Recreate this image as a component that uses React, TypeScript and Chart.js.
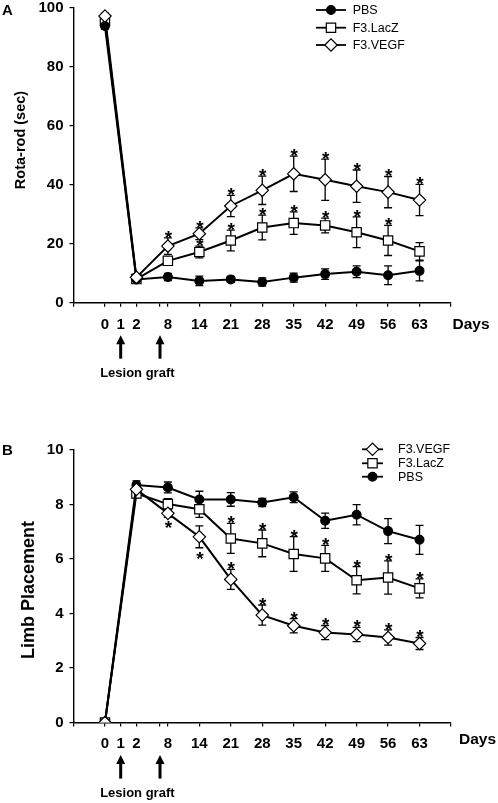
import React, { useEffect, useRef } from 'react';
import { Chart, registerables } from 'chart.js';

Chart.register(...registerables);

const FONT = "'Liberation Sans', Arial, Helvetica, sans-serif";

// ---- x axis of the original (a broken, non-proportional day axis) ----
const xTickSlots = [0, 1, 1.5, 2, 2.75, 3, 4, 5, 6, 7, 8, 9, 10, 11, 12];
const xTickLabels = ['', '0', '1', '2', '', '8', '14', '21', '28', '35', '42', '49', '56', '63', ''];
const arrowSlots = [1.5, 2.75];

// ---- days measured ----
const days = [0, 2, 8, 14, 21, 28, 35, 42, 49, 56, 63];

// ---- Panel A : Rota-rod (sec) ----
const aPBS = [93.8, 7.9, 8.7, 7.4, 7.9, 7.0, 8.5, 9.7, 10.5, 9.3, 10.8];
const aPBSErr = [1, 0.6, 1.2, 1.6, 1.0, 1.4, 1.5, 1.8, 2.0, 3.2, 3.4];
const aLacZ = [95.5, 8.0, 14.2, 17.2, 21.1, 25.5, 27.0, 26.2, 23.9, 21.1, 17.4];
const aLacZErr = [1, 0.8, 1.0, 2.0, 3.5, 4.2, 3.8, 2.5, 5.2, 5.1, 3.0];
const aVEGF = [97.2, 8.6, 19.2, 23.4, 32.8, 38.1, 43.7, 41.7, 39.5, 37.5, 34.8];
const aVEGFErr = [1, 1.2, 2.8, 2.0, 3.6, 4.8, 6.0, 7.0, 5.5, 5.3, 5.3];
// significance marks: 1 = star above, -1 = star below, 0 = none
const aPBSSig = [0, 0, 0, 0, 0, 0, 0, 0, 0, 0, 0];
const aLacZSig = [0, 0, 0, 1, 1, 1, 1, 1, 1, 1, 0];
const aVEGFSig = [0, 0, 1, 1, 1, 1, 1, 1, 1, 1, 1];

// ---- Panel B : Limb Placement ----
const bPBS = [0, 8.71, 8.62, 8.18, 8.18, 8.07, 8.26, 7.4, 7.62, 7.02, 6.7];
const bPBSErr = [0, 0.15, 0.2, 0.3, 0.25, 0.15, 0.2, 0.28, 0.37, 0.46, 0.53];
const bLacZ = [0, 8.4, 8.01, 7.82, 6.75, 6.57, 6.18, 6.02, 5.22, 5.32, 4.92];
const bLacZErr = [0, 0.15, 0.2, 0.3, 0.55, 0.49, 0.64, 0.48, 0.5, 0.61, 0.35];
const bVEGF = [0, 8.55, 7.67, 6.81, 5.25, 3.94, 3.55, 3.3, 3.23, 3.12, 2.9];
const bVEGFErr = [0, 0.15, 0.15, 0.4, 0.37, 0.37, 0.26, 0.26, 0.26, 0.28, 0.22];
const bPBSSig = [0, 0, 0, 0, 0, 0, 0, 0, 0, 0, 0];
const bLacZSig = [0, 0, 0, 0, 1, 1, 1, 1, 1, 1, 1];
const bVEGFSig = [0, 0, -1, -1, 1, 1, 1, 1, 1, 1, 1];

const yTicksA = [0, 20, 40, 60, 80, 100];
const yTicksB = [0, 2, 4, 6, 8, 10];

const slotOfDay = (d: number) => xTickSlots[xTickLabels.indexOf(String(d))];
const labelOfSlot = (v: number) => {
  const i = xTickSlots.indexOf(v);
  return i >= 0 ? xTickLabels[i] : '';
};

type Series = { label: string; values: number[]; err: number[]; sig: number[]; style: string };

const seriesStyle: Record<string, any> = {
  circle: { pointStyle: 'circle', pointRadius: 4.4, pointBackgroundColor: '#000' },
  rect: { pointStyle: 'rect', pointRadius: 6.6, pointBackgroundColor: '#fff' },
  rectRot: { pointStyle: 'rectRot', pointRadius: 6.2, pointBackgroundColor: '#fff' },
};
const drawOrder: Record<string, number> = { rectRot: 0, circle: 1, rect: 2 };

function drawMarker(ctx: CanvasRenderingContext2D, style: string, x: number, y: number, r: number) {
  ctx.beginPath();
  if (style === 'circle') {
    ctx.arc(x, y, r, 0, Math.PI * 2);
    ctx.fillStyle = '#000';
  } else if (style === 'rect') {
    const s = r * Math.SQRT1_2;
    ctx.rect(x - s, y - s, 2 * s, 2 * s);
    ctx.fillStyle = '#fff';
  } else {
    ctx.moveTo(x - r, y);
    ctx.lineTo(x, y - r);
    ctx.lineTo(x + r, y);
    ctx.lineTo(x, y + r);
    ctx.closePath();
    ctx.fillStyle = '#fff';
  }
  ctx.fill();
  ctx.lineWidth = 1.2;
  ctx.strokeStyle = '#000';
  ctx.stroke();
}

type Panel = {
  letter: string;
  letterPos: [number, number];
  yTitle: string;
  yTitlePos: [number, number];
  yTitleSize: number;
  top: number;
  bottom: number;
  yTicks: number[];
  series: Series[];
  legendOrder: number[];
  legendLine: [number, number];
  legendText: number;
  legendRows: number[];
  daysPos: [number, number];
  tickPad: number;
};

const W = 498;
const H = 803;
const LEFT = 73.5;
const RIGHT = 451;
const XAXIS_H = 30;

function makeChart(canvas: HTMLCanvasElement, p: Panel) {
  const datasets = p.series.map((s) => ({
    label: s.label,
    data: days.map((d, i) => ({ x: slotOfDay(d), y: s.values[i] })),
    borderColor: '#000',
    borderWidth: 2,
    pointBorderColor: '#000',
    pointBorderWidth: 1.2,
    ...seriesStyle[s.style],
    fill: false,
    tension: 0,
    order: drawOrder[s.style],
    errBars: s.err,
    sigMarks: s.sig,
  }));

  const panelPlugin = {
    id: 'panelDecor',
    beforeDatasetsDraw(chart: any) {
      const ctx = chart.ctx as CanvasRenderingContext2D;
      const ys = chart.scales.y;
      ctx.save();
      ctx.strokeStyle = '#000';
      ctx.lineWidth = 1.3;
      chart.data.datasets.forEach((ds: any, di: number) => {
        const meta = chart.getDatasetMeta(di);
        ds.data.forEach((pt: any, j: number) => {
          const e = ds.errBars[j];
          if (!e) return;
          const x = meta.data[j].x;
          const yh = ys.getPixelForValue(pt.y + e);
          const yl = ys.getPixelForValue(pt.y - e);
          ctx.beginPath();
          ctx.moveTo(x, yh);
          ctx.lineTo(x, yl);
          ctx.moveTo(x - 4, yh);
          ctx.lineTo(x + 4, yh);
          ctx.moveTo(x - 4, yl);
          ctx.lineTo(x + 4, yl);
          ctx.stroke();
        });
      });
      ctx.restore();
    },
    afterDatasetsDraw(chart: any) {
      const ctx = chart.ctx as CanvasRenderingContext2D;
      const ys = chart.scales.y;
      const xs = chart.scales.x;
      const area = chart.chartArea;
      ctx.save();
      ctx.fillStyle = '#000';
      // significance stars
      ctx.font = `bold 19px ${FONT}`;
      ctx.textAlign = 'center';
      ctx.textBaseline = 'alphabetic';
      chart.data.datasets.forEach((ds: any, di: number) => {
        const meta = chart.getDatasetMeta(di);
        ds.data.forEach((pt: any, j: number) => {
          const s = ds.sigMarks[j];
          if (!s) return;
          const e = ds.errBars[j] || 0;
          const x = meta.data[j].x + 0.5;
          if (s > 0) {
            const yh = ys.getPixelForValue(pt.y + e);
            ctx.fillText('*', x, yh + 6);
          } else {
            const yl = ys.getPixelForValue(pt.y - e);
            ctx.fillText('*', x, yl + 17);
          }
        });
      });

      // legend
      ctx.font = `12.5px ${FONT}`;
      ctx.textAlign = 'left';
      ctx.textBaseline = 'middle';
      p.legendOrder.forEach((si, r) => {
        const s = p.series[si];
        const y = p.legendRows[r];
        const [x1, x2] = p.legendLine;
        ctx.beginPath();
        ctx.moveTo(x1, y);
        ctx.lineTo(x2, y);
        ctx.lineWidth = 1.8;
        ctx.strokeStyle = '#000';
        ctx.stroke();
        drawMarker(ctx, s.style, (x1 + x2) / 2, y, seriesStyle[s.style].pointRadius);
        ctx.fillStyle = '#000';
        ctx.fillText(s.label, p.legendText, y + 0.5);
      });

      // panel letter
      ctx.font = `bold 15px ${FONT}`;
      ctx.textAlign = 'center';
      ctx.textBaseline = 'middle';
      ctx.fillText(p.letter, p.letterPos[0], p.letterPos[1]);

      // y title
      ctx.save();
      ctx.translate(p.yTitlePos[0], p.yTitlePos[1]);
      ctx.rotate(-Math.PI / 2);
      ctx.font = `bold ${p.yTitleSize}px ${FONT}`;
      ctx.fillText(p.yTitle, 0, 0);
      ctx.restore();

      // "Days"
      ctx.font = `bold 15.5px ${FONT}`;
      ctx.fillText('Days', p.daysPos[0], p.daysPos[1]);

      // arrows for lesion / graft
      const axisY = area.bottom;
      arrowSlots.forEach((sl) => {
        const x = xs.getPixelForValue(sl);
        const yt = axisY + 32.5;
        const yb = axisY + 56;
        ctx.beginPath();
        ctx.moveTo(x, yt + 7);
        ctx.lineTo(x, yb);
        ctx.lineWidth = 3;
        ctx.strokeStyle = '#000';
        ctx.stroke();
        ctx.beginPath();
        ctx.moveTo(x - 4.5, yt + 9);
        ctx.lineTo(x, yt);
        ctx.lineTo(x + 4.5, yt + 9);
        ctx.closePath();
        ctx.fill();
      });
      const midX = (xs.getPixelForValue(arrowSlots[0]) + xs.getPixelForValue(arrowSlots[1])) / 2;
      ctx.font = `bold 13px ${FONT}`;
      ctx.fillText('Lesion graft', midX - 3, axisY + 70.5);
      ctx.restore();
    },
  };

  const zeroPad = (s: any) => {
    s.paddingTop = 0;
    s.paddingBottom = 0;
    s.paddingLeft = 0;
    s.paddingRight = 0;
  };

  return new Chart(canvas, {
    type: 'line',
    data: { datasets: datasets as any },
    options: {
      responsive: false,
      animation: false,
      events: [],
      layout: {
        padding: { left: 0, right: W - RIGHT, top: p.top, bottom: H - p.bottom - XAXIS_H },
      },
      plugins: { legend: { display: false }, tooltip: { enabled: false } },
      scales: {
        x: {
          type: 'linear',
          min: xTickSlots[0],
          max: xTickSlots[xTickSlots.length - 1],
          afterBuildTicks: (s: any) => {
            s.ticks = xTickSlots.map((v) => ({ value: v }));
          },
          afterFit: (s: any) => {
            s.height = XAXIS_H;
            zeroPad(s);
          },
          grid: { drawOnChartArea: false, drawTicks: true, tickLength: 4, color: '#000', lineWidth: 1.2 },
          border: { display: true, color: '#000', width: 1.4 },
          ticks: {
            autoSkip: false,
            maxRotation: 0,
            padding: p.tickPad,
            color: '#000',
            font: { family: FONT, size: 15, weight: 'bold' },
            callback: (v: any) => labelOfSlot(Number(v)),
          },
        },
        y: {
          type: 'linear',
          min: p.yTicks[0],
          max: p.yTicks[p.yTicks.length - 1],
          afterBuildTicks: (s: any) => {
            s.ticks = p.yTicks.map((v) => ({ value: v }));
          },
          afterFit: (s: any) => {
            s.width = LEFT;
            zeroPad(s);
          },
          grid: { drawOnChartArea: false, drawTicks: true, tickLength: 4, color: '#000', lineWidth: 1.2 },
          border: { display: true, color: '#000', width: 1.4 },
          ticks: {
            padding: 6,
            color: '#000',
            font: { family: FONT, size: 15, weight: 'bold' },
            callback: (v: any) => String(v),
          },
        },
      },
    } as any,
    plugins: [panelPlugin],
  });
}

const panelA: Panel = {
  letter: 'A',
  letterPos: [7.5, 11],
  yTitle: 'Rota-rod (sec)',
  yTitlePos: [20.7, 140],
  yTitleSize: 14.5,
  top: 7.4,
  bottom: 302.7,
  yTicks: yTicksA,
  series: [
    { label: 'PBS', values: aPBS, err: aPBSErr, sig: aPBSSig, style: 'circle' },
    { label: 'F3.LacZ', values: aLacZ, err: aLacZErr, sig: aLacZSig, style: 'rect' },
    { label: 'F3.VEGF', values: aVEGF, err: aVEGFErr, sig: aVEGFSig, style: 'rectRot' },
  ],
  legendOrder: [0, 1, 2],
  legendLine: [316, 346],
  legendText: 352.7,
  legendRows: [10, 27.7, 45],
  daysPos: [471, 325],
  tickPad: 9,
};

const panelB: Panel = {
  letter: 'B',
  letterPos: [7.5, 451],
  yTitle: 'Limb Placement',
  yTitlePos: [29.3, 590],
  yTitleSize: 18,
  top: 449.8,
  bottom: 722.6,
  yTicks: yTicksB,
  series: [
    { label: 'F3.VEGF', values: bVEGF, err: bVEGFErr, sig: bVEGFSig, style: 'rectRot' },
    { label: 'F3.LacZ', values: bLacZ, err: bLacZErr, sig: bLacZSig, style: 'rect' },
    { label: 'PBS', values: bPBS, err: bPBSErr, sig: bPBSSig, style: 'circle' },
  ],
  legendOrder: [0, 1, 2],
  legendLine: [362, 383],
  legendText: 398,
  legendRows: [449.3, 463.3, 476.7],
  daysPos: [477.5, 739.3],
  tickPad: 8,
};

export default function App() {
  const refA = useRef<HTMLCanvasElement>(null);
  const refB = useRef<HTMLCanvasElement>(null);

  useEffect(() => {
    const ca = makeChart(refA.current!, panelA);
    const cb = makeChart(refB.current!, panelB);
    return () => {
      ca.destroy();
      cb.destroy();
    };
  }, []);

  const cstyle: React.CSSProperties = {
    position: 'absolute',
    left: 0,
    top: 0,
    width: W,
    height: H,
    display: 'block',
  };

  return (
    <div style={{ position: 'absolute', left: 0, top: 0, width: W, height: H, background: '#fff' }}>
      <canvas ref={refA} width={W} height={H} style={cstyle} />
      <canvas ref={refB} width={W} height={H} style={cstyle} />
    </div>
  );
}
